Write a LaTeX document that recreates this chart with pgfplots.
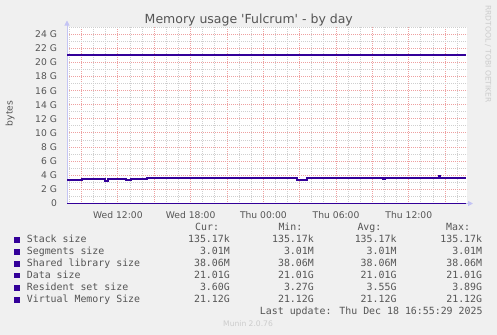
\documentclass[border=0pt]{standalone}
\usepackage{fontspec}
\setmainfont{DejaVu Sans}
\newfontfamily\plain{DejaVu Sans}
\newfontfamily\mono{DejaVu Sans Mono}
\usepackage{pgfplots}
\pgfplotsset{compat=1.18}
\usetikzlibrary{arrows.meta}
\definecolor{bg}{HTML}{F0F0F0}
\definecolor{ser}{HTML}{330099}
\definecolor{txt}{HTML}{555555}
\definecolor{majg}{HTML}{EEA0A0}
\definecolor{ming}{HTML}{CFCFCF}
\definecolor{axc}{HTML}{C4C4F4}
\definecolor{wm}{HTML}{CCCCCC}
\begin{document}
\begin{tikzpicture}
\fill[bg] (0,0) rectangle (497bp,-335bp);
\begin{axis}[
  at={(67bp,-203.5bp)}, anchor=south west,
  scale only axis, width=400bp, height=177bp,
  xmin=7.8, xmax=40.8, ymin=0, ymax=25.1,
  axis lines=left,
  axis line style={draw=axc, line width=1bp, shorten >=-6bp, -{Triangle[width=5bp,length=5bp]}},
  axis background/.style={fill=white},
  xtick={9,12,...,39},
  xticklabels={,Wed 12:00,,Wed 18:00,,Thu 00:00,,Thu 06:00,,Thu 12:00,},
  minor xtick={8,10,11,13,14,16,17,19,20,22,23,25,26,28,29,31,32,34,35,37,38,40},
  ytick={0,2,...,24},
  yticklabels={{0\hspace{6bp}},2 G,4 G,6 G,8 G,10 G,12 G,14 G,16 G,18 G,20 G,22 G,24 G},
  minor ytick={1,3,...,25},
  grid=both,
  major grid style={draw=majg, line width=1bp, dash pattern=on 1bp off 1bp},
  minor grid style={draw=ming, line width=1bp, dash pattern=on 1bp off 1bp},
  tick style={draw=none},
  tick label style={font=\fontsize{9.2bp}{11bp}\selectfont, text=txt},
  xticklabel style={anchor=north, inner sep=0pt, yshift=-5.5bp},
  yticklabel style={anchor=east, inner sep=0pt, xshift=-7.7bp},
]
% Stack size, Segments size, Shared library size (G)
\addplot[ser, line width=1bp] coordinates {(7.8,0.000135) (40.72,0.000135)};
\addplot[ser, line width=1bp] coordinates {(7.8,0.00301) (40.72,0.00301)};
\addplot[ser, line width=1bp] coordinates {(7.8,0.03806) (40.72,0.03806)};
% Data size
\addplot[ser, line width=1.8bp] coordinates {(7.8,21.01) (40.72,21.01)};
% Resident set size
\addplot[ser, line width=2bp, const plot] coordinates {
(7.8,3.27) (8.2,3.33) (8.5,3.27) (8.8,3.30) (9.0,3.45) (10.9,3.25) (11.2,3.42)
(12.7,3.35) (13.1,3.42) (14.4,3.55) (18.3,3.62) (18.8,3.55) (19.8,3.63)
(20.4,3.55) (21.4,3.58) (21.5,3.55) (23.9,3.58) (24.0,3.55) (26.8,3.33)
(27.6,3.55) (28.4,3.62) (28.9,3.55) (29.2,3.60) (29.9,3.55) (30.2,3.62)
(30.5,3.55) (30.9,3.60) (31.0,3.55) (32.3,3.60) (32.4,3.55) (33.9,3.42)
(34.0,3.55) (38.5,3.85) (38.6,3.55) (40.4,3.60) (40.5,3.55) (40.72,3.55)};
% Virtual Memory Size
\addplot[ser, line width=1.8bp] coordinates {(7.8,21.12) (40.72,21.12)};
\end{axis}
% title and labels
\node[anchor=base, text=txt, font=\plain\fontsize{12.5bp}{14bp}\selectfont, inner sep=0pt] at (248.8bp,-23.5bp) {Memory usage 'Fulcrum' - by day};
\node[rotate=90, text=txt, font=\fontsize{9.2bp}{11bp}\selectfont, inner sep=0pt] at (10bp,-113.5bp) {bytes};
\node[rotate=-90, text=wm, font=\fontsize{7.6bp}{9bp}\selectfont, inner sep=0pt] at (488bp,-54bp) {RRDTOOL / TOBI OETIKER};
% legend
\begin{scope}[every node/.style={inner sep=0pt, text=txt, font=\mono\fontsize{9.9bp}{12bp}\selectfont}]
\node[anchor=base west] at (195bp,-230.5bp) {Cur:};
\node[anchor=base west] at (278.3bp,-230.5bp) {Min:};
\node[anchor=base west] at (357.3bp,-230.5bp) {Avg:};
\node[anchor=base west] at (446bp,-230.5bp) {Max:};
\foreach \y/\lab/\cur/\mn/\av/\mx in {
  242.7/Stack size/135.17k/135.17k/135.17k/135.17k,
  254.6/Segments size/3.01M/3.01M/3.01M/3.01M,
  266.5/Shared library size/38.06M/38.06M/38.06M/38.06M,
  278.4/Data size/21.01G/21.01G/21.01G/21.01G,
  290.5/Resident set size/3.60G/3.27G/3.55G/3.89G,
  302.5/Virtual Memory Size/21.12G/21.12G/21.12G/21.12G}{
  \fill[ser] (14bp,-\y bp+5.5bp) rectangle (19.5bp,-\y bp);
  \node[anchor=base west] at (26.7bp,-\y bp) {\lab};
  \node[anchor=base east] at (230bp,-\y bp) {\cur};
  \node[anchor=base east] at (314bp,-\y bp) {\mn};
  \node[anchor=base east] at (396.7bp,-\y bp) {\av};
  \node[anchor=base east] at (482.3bp,-\y bp) {\mx};
}
\node[anchor=base east] at (482.7bp,-314.5bp) {Last update: Thu Dec 18 16:55:29 2025};
\end{scope}
\node[anchor=base west, inner sep=0pt, text=wm, font=\fontsize{7.6bp}{9bp}\selectfont] at (223bp,-326.5bp) {Munin 2.0.76};
\end{tikzpicture}
\end{document}
